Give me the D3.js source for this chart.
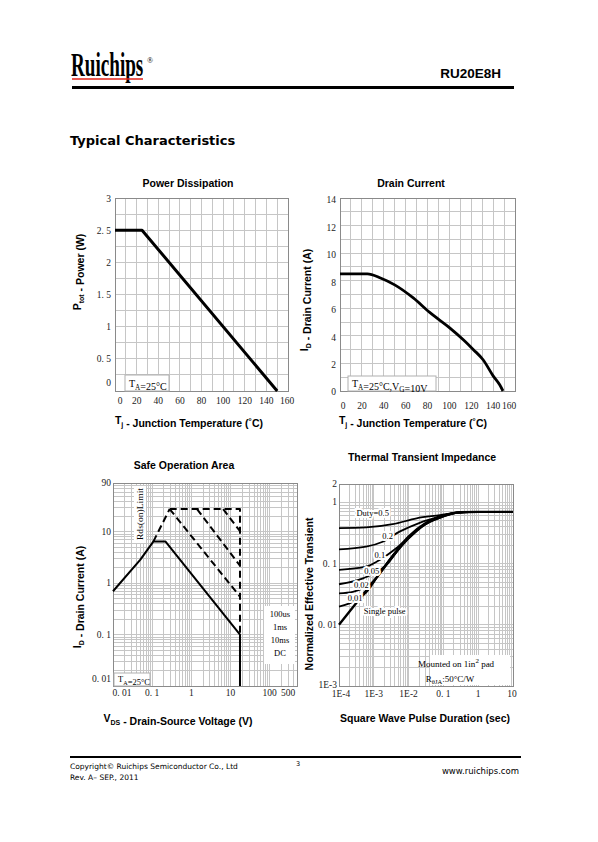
<!DOCTYPE html>
<html><head><meta charset="utf-8">
<script src="https://cdn.jsdelivr.net/npm/d3@7"></script>
<style>body{margin:0;background:#fff}</style>
</head><body>
<svg id="page" width="598" height="842"></svg>
<script>
// ---------- DATA ----------
// Power dissipation
const powerTemp = [0, 25, 150];
const powerW = [2.5, 2.5, 0];
const powerXTicks = [0, 20, 40, 60, 80, 100, 120, 140, 160];
const powerYTicks = [0, 0.5, 1, 1.5, 2, 2.5, 3];
const powerYLabels = ["0", "0. 5", "1", "1. 5", "2", "2. 5", "3"];

// Drain current
const drainTemp = [0, 25, 37, 50, 67, 82, 100, 113, 122, 131, 140, 146, 149];
const drainI = [8.5, 8.5, 8.2, 7.7, 6.75, 5.7, 4.6, 3.7, 3.0, 2.25, 1.1, 0.45, 0];
const drainXTicks = [0, 20, 40, 60, 80, 100, 120, 140, 160];
const drainYTicks = [0, 2, 4, 6, 8, 10, 12, 14];

// Safe operation area
const soaXTicks = [0.01, 0.1, 1, 10, 100, 500];
const soaXLabels = ["0. 01", "0. 1", "1", "10", "100", "500"];
const soaYTicks = [0.01, 0.1, 1, 10, 90];
const soaYLabels = ["0. 01", "0. 1", "1", "10", "90"];
const soaDcV = [0.01, 0.05, 0.107, 0.22, 17.5, 17.5];
const soaDcI = [0.7, 2.9, 6.5, 6.5, 0.1, 0.01];
const soaRdsV = [0.107, 0.28];
const soaRdsI = [6.5, 28];
const soaLimitV = [0.28, 17.5, 17.5];
const soaLimitI = [28, 28, 0.1];
const soa100usV = [6.5, 17.5];
const soa100usI = [28, 10.4];
const soa1msV = [1.4, 17.5];
const soa1msI = [28, 2.2];
const soa10msV = [0.28, 17.5];
const soa10msI = [28, 0.55];
const soaLegend = ["100us", "1ms", "10ms", "DC"];

// Thermal transient impedance
const thXTicks = [1e-4, 1e-3, 1e-2, 0.1, 1, 10];
const thXLabels = ["1E-4", "1E-3", "1E-2", "0. 1", "1", "10"];
const thYTicks = [1e-3, 0.01, 0.1, 1, 2];
const thYLabels = ["1E-3", "0. 01", "0. 1", "1", "2"];
const duty05T = [1e-4, 6e-4, 3.5e-3, 0.017, 0.08, 0.24, 0.5, 10];
const duty05Z = [0.38, 0.39, 0.44, 0.55, 0.62, 0.68, 0.70, 0.70];
const duty02T = [1e-4, 6e-4, 1.8e-3, 5.5e-3, 0.02, 0.08, 0.2, 0.5, 10];
const duty02Z = [0.171, 0.189, 0.228, 0.333, 0.46, 0.585, 0.66, 0.70, 0.70];
const duty01T = [1e-4, 6e-4, 1.2e-3, 4.5e-3, 0.015, 0.04, 0.08, 0.2, 0.5, 10];
const duty01Z = [0.079, 0.089, 0.107, 0.18, 0.33, 0.48, 0.56, 0.66, 0.70, 0.70];
const duty005T = [1e-4, 4.9e-4, 2.3e-3, 6e-3, 0.015, 0.04, 0.1, 0.3, 1, 10];
const duty005Z = [0.046, 0.0575, 0.095, 0.19, 0.32, 0.50, 0.62, 0.69, 0.70, 0.70];
const duty002T = [1e-4, 2.5e-4, 9.5e-4, 3e-3, 0.01, 0.03, 0.1, 0.3, 1, 10];
const duty002Z = [0.0327, 0.0346, 0.0507, 0.12, 0.28, 0.46, 0.61, 0.69, 0.70, 0.70];
const duty001T = [1e-4, 2e-4, 6e-4, 2e-3, 0.01, 0.03, 0.1, 0.3, 1, 10];
const duty001Z = [0.0198, 0.0224, 0.0335, 0.09, 0.27, 0.45, 0.61, 0.69, 0.70, 0.70];
const singleT = [1e-4, 1e-3, 0.01, 0.03, 0.1, 0.3, 1, 10];
const singleZ = [0.01, 0.052, 0.26, 0.44, 0.60, 0.69, 0.70, 0.70];
const thLabelText = ["Duty=0.5", "0.2", "0.1", "0.05", "0.02", "0.01", "Single pulse"];
const thLabelT = [9.3e-4, 2.5e-3, 1.5e-3, 8.7e-4, 4.4e-4, 2.9e-4, 2.06e-3];
const thLabelZ = [0.67, 0.28, 0.138, 0.077, 0.0448, 0.027, 0.0168];

// ---------- DRAWING ----------
const svg = d3.select("#page");
svg.append("rect").attr("width", 598).attr("height", 842).attr("fill", "#fff");

const SANS = "'Liberation Sans', Arial, sans-serif";
const SERIF = "'Liberation Serif', 'Times New Roman', serif";
const VERD = "'DejaVu Sans', Verdana, sans-serif";
const GRID = "#c6c6c6";
const FRAME = "#8a8a8a";

// Header
svg.append("text").attr("transform", "translate(71,76) scale(0.5625,1)").attr("font-family", SERIF).attr("font-weight", "bold")
  .attr("font-size", 34).attr("fill", "#000").text("Ruichips");
svg.append("text").attr("x", 147).attr("y", 63).attr("font-family", SERIF).attr("font-size", 8).text("®");
svg.append("line").attr("x1", 72).attr("x2", 143).attr("y1", 79).attr("y2", 79).attr("stroke", "#e2231a").attr("stroke-width", 1.6);
svg.append("text").attr("x", 501).attr("y", 78).attr("text-anchor", "end").attr("font-family", SANS).attr("font-weight", "bold").attr("font-size", 13.5).text("RU20E8H");
svg.append("rect").attr("x", 72).attr("y", 86).attr("width", 442).attr("height", 3).attr("fill", "#000");
svg.append("text").attr("x", 70).attr("y", 145).attr("font-family", VERD).attr("font-weight", "bold").attr("font-size", 13).text("Typical Characteristics");

// Footer
svg.append("rect").attr("x", 70).attr("y", 756).attr("width", 451).attr("height", 2).attr("fill", "#000");
svg.append("text").attr("x", 70).attr("y", 769).attr("font-family", VERD).attr("font-size", 7.5).text("Copyright© Ruichips Semiconductor Co., Ltd");
svg.append("text").attr("x", 70).attr("y", 780).attr("font-family", VERD).attr("font-size", 7.5).text("Rev. A– SEP., 2011");
svg.append("text").attr("x", 298).attr("y", 766).attr("text-anchor", "middle").attr("font-family", VERD).attr("font-size", 6.5).text("3");
svg.append("text").attr("x", 519).attr("y", 774).attr("text-anchor", "end").attr("font-family", VERD).attr("font-size", 8.5).text("www.ruichips.com");

// helpers
function title(text, x, y) {
  svg.append("text").attr("x", x).attr("y", y).attr("text-anchor", "middle").attr("font-family", SANS)
    .attr("font-weight", "bold").attr("font-size", 10.5).text(text);
}
function richTitle(parts, x, y, rotate) {
  const t = svg.append("text").attr("text-anchor", "middle").attr("font-family", SANS).attr("font-weight", "bold").attr("font-size", 10.5)
    .attr("transform", `translate(${x},${y})` + (rotate ? " rotate(-90)" : ""));
  parts.forEach(p => {
    if (p.sub) {
      t.append("tspan").attr("dy", 3).attr("font-size", 7).text(p.sub);
      t.append("tspan").attr("dy", -3).text("");
    } else t.append("tspan").text(p.t);
  });
}
function logGrid(min, max) {
  const vals = [];
  for (let n = Math.floor(Math.log10(min)); n <= Math.ceil(Math.log10(max)); n++) {
    for (let k = 1; k <= 9; k++) {
      const v = k * Math.pow(10, n);
      if (v >= min * 0.9999 && v <= max * 1.0001) vals.push(v);
    }
  }
  return vals;
}
function gridAndFrame(g, x, y, xs, ys) {
  const [x0, x1] = x.range(), [y0, y1] = y.range();
  g.selectAll(null).data(xs).join("line").attr("x1", d => x(d)).attr("x2", d => x(d)).attr("y1", y0).attr("y2", y1)
    .attr("stroke", GRID).attr("stroke-width", 1).attr("shape-rendering", "crispEdges");
  g.selectAll(null).data(ys).join("line").attr("y1", d => y(d)).attr("y2", d => y(d)).attr("x1", x0).attr("x2", x1)
    .attr("stroke", GRID).attr("stroke-width", 1).attr("shape-rendering", "crispEdges");
  g.append("rect").attr("x", x0).attr("y", y1).attr("width", x1 - x0).attr("height", y0 - y1)
    .attr("fill", "none").attr("stroke", FRAME).attr("stroke-width", 1).attr("shape-rendering", "crispEdges");
}
function tickLabels(g, x, y, xt, xl, yt, yl, opt) {
  const [x0, x1] = x.range(), [y0, y1] = y.range();
  g.selectAll(null).data(xt).join("text")
    .attr("x", d => Math.min(Math.max(x(d), x0 + opt.xPadL), x1 - opt.xPadR))
    .attr("y", y0 + opt.xDy).attr("text-anchor", "middle").attr("font-family", SERIF).attr("font-size", 9.5).attr("fill", "#222")
    .text((d, i) => xl[i]);
  g.selectAll(null).data(yt).join("text")
    .attr("x", x0 - opt.yDx).attr("y", d => Math.min(y(d) + opt.yDy, y0 - opt.yPadB)).attr("text-anchor", "end")
    .attr("font-family", SERIF).attr("font-size", 9.5).attr("fill", "#222").text((d, i) => yl[i]);
}
function path(g, xs, ys, x, y, w, dash, curve) {
  const pts = xs.map((v, i) => [v, ys[i]]);
  g.append("path").attr("d", d3.line().x(d => x(d[0])).y(d => y(d[1])).curve(curve || d3.curveLinear)(pts))
    .attr("fill", "none").attr("stroke", "#000").attr("stroke-width", w).attr("stroke-dasharray", dash || null)
    .attr("stroke-linejoin", "round");
}
function taBox(g, x, y, w, h, parts, size) {
  g.append("rect").attr("x", x).attr("y", y).attr("width", w).attr("height", h).attr("fill", "#fff").attr("stroke", "#b0b0b0");
  const t = g.append("text").attr("x", x + 4).attr("y", y + h - 4).attr("font-family", SERIF).attr("font-size", size);
  parts.forEach(p => {
    if (p.sub) { t.append("tspan").attr("dy", 2.5).attr("font-size", size * 0.72).text(p.sub); t.append("tspan").attr("dy", -2.5).text(""); }
    else t.append("tspan").text(p.t);
  });
}

// ---- Chart 1: Power Dissipation ----
{
  const g = svg.append("g");
  const x = d3.scaleLinear().domain([0, 160]).range([115, 288]);
  const y = d3.scaleLinear().domain([0, 3]).range([391, 198]);
  gridAndFrame(g, x, y, d3.range(10, 160, 10), d3.range(0.25, 3, 0.25));
  tickLabels(g, x, y, powerXTicks, powerXTicks.map(String), powerYTicks, powerYLabels,
    { xDy: 13, xPadL: 5, xPadR: 1, yDx: 4, yDy: 3.5, yPadB: 5 });
  taBox(g, 125, 375, 44, 16, [{ t: "T" }, { sub: "A" }, { t: "=25°C" }], 10);
  path(g, powerTemp, powerW, x, y, 3);
  title("Power Dissipation", 188, 187);
  richTitle([{ t: "P" }, { sub: "tot" }, { t: " - Power (W)" }], 81, 272, true);
  richTitle([{ t: "T" }, { sub: "j" }, { t: " - Junction Temperature (˚C)" }], 189, 424, false);
}

// ---- Chart 2: Drain Current ----
{
  const g = svg.append("g");
  const x = d3.scaleLinear().domain([0, 160]).range([340, 515]);
  const y = d3.scaleLinear().domain([0, 14]).range([391, 198]);
  gridAndFrame(g, x, y, d3.range(10, 160, 10), d3.range(1, 14, 1));
  tickLabels(g, x, y, drainXTicks, drainXTicks.map(String), drainYTicks, drainYTicks.map(String),
    { xDy: 18, xPadL: 3, xPadR: 6, yDx: 4, yDy: 5, yPadB: -4 });
  taBox(g, 348, 376, 88, 15, [{ t: "T" }, { sub: "A" }, { t: "=25°C,V" }, { sub: "G" }, { t: "=10V" }], 10);
  path(g, drainTemp, drainI, x, y, 2.8, null, d3.curveMonotoneX);
  title("Drain Current", 411, 187);
  richTitle([{ t: "I" }, { sub: "D" }, { t: " - Drain Current (A)" }], 308, 300, true);
  richTitle([{ t: "T" }, { sub: "j" }, { t: " - Junction Temperature (˚C)" }], 413, 424, false);
}

// ---- Chart 3: Safe Operation Area ----
{
  const g = svg.append("g");
  const x = d3.scaleLog().domain([0.01, 500]).range([113, 297]);
  const y = d3.scaleLog().domain([0.01, 90]).range([686, 483]);
  gridAndFrame(g, x, y, logGrid(0.01, 500).slice(1, -1), logGrid(0.01, 90).slice(1, -1));
  tickLabels(g, x, y, soaXTicks, soaXLabels, soaYTicks, soaYLabels,
    { xDy: 10, xPadL: 9, xPadR: 9, yDx: 2, yDy: 3, yPadB: 4 });
  // annotation boxes
  g.append("rect").attr("x", 134).attr("y", 486).attr("width", 12).attr("height", 57).attr("fill", "#fff");
  g.append("text").attr("transform", "translate(143,514) rotate(-90)").attr("text-anchor", "middle")
    .attr("font-family", SERIF).attr("font-size", 9).attr("textLength", 52).attr("lengthAdjust", "spacingAndGlyphs").text("Rds(on)Limit");
  g.append("rect").attr("x", 264).attr("y", 606).attr("width", 31).attr("height", 58).attr("fill", "#fff");
  g.selectAll(null).data(soaLegend).join("text").attr("x", 280).attr("y", (d, i) => 617 + i * 13)
    .attr("text-anchor", "middle").attr("font-family", SERIF).attr("font-size", 8.5).text(d => d);
  taBox(g, 114, 673, 36, 13, [{ t: "T" }, { sub: "A" }, { t: "=25°C" }], 8.5);
  const dash = "7,4";
  path(g, soaRdsV, soaRdsI, x, y, 2, dash);
  path(g, soaLimitV, soaLimitI, x, y, 2, dash);
  path(g, soa100usV, soa100usI, x, y, 2, dash);
  path(g, soa1msV, soa1msI, x, y, 2, dash);
  path(g, soa10msV, soa10msI, x, y, 2, dash);
  path(g, soaDcV, soaDcI, x, y, 2);
  title("Safe Operation Area", 184, 469);
  richTitle([{ t: "I" }, { sub: "D" }, { t: " - Drain Current (A)" }], 81, 597, true);
  richTitle([{ t: "V" }, { sub: "DS" }, { t: " - Drain-Source Voltage (V)" }], 178, 722, false);
}

// ---- Chart 4: Thermal Transient Impedance ----
{
  const g = svg.append("g");
  const x = d3.scaleLog().domain([1e-4, 10]).range([339, 513]);
  const y = d3.scaleLog().domain([1e-3, 2]).range([686, 484]);
  gridAndFrame(g, x, y, logGrid(1e-4, 10).slice(1, -1), logGrid(1e-3, 2).slice(1, -1));
  tickLabels(g, x, y, thXTicks, thXLabels, thYTicks, thYLabels,
    { xDy: 11, xPadL: 2, xPadR: 1, yDx: 2, yDy: 3, yPadB: -2 });
  const c = d3.curveMonotoneX;
  path(g, duty05T, duty05Z, x, y, 1.8, null, c);
  path(g, duty02T, duty02Z, x, y, 1.8, null, c);
  path(g, duty01T, duty01Z, x, y, 1.8, null, c);
  path(g, duty005T, duty005Z, x, y, 1.8, null, c);
  path(g, duty002T, duty002Z, x, y, 1.8, null, c);
  path(g, duty001T, duty001Z, x, y, 1.8, null, c);
  path(g, singleT, singleZ, x, y, 2.4, null, c);
  g.selectAll(null).data(thLabelText).join("text")
    .attr("x", (d, i) => x(thLabelT[i])).attr("y", (d, i) => y(thLabelZ[i]) + 3)
    .attr("text-anchor", "middle").attr("font-family", SERIF).attr("font-size", 8.5)
    .attr("stroke", "#fff").attr("stroke-width", 4).attr("paint-order", "stroke").attr("fill", "#000").text(d => d);
  g.append("rect").attr("x", 430).attr("y", 655).attr("width", 80).attr("height", 30).attr("fill", "#fff");
  const t1 = g.append("text").attr("x", 456).attr("y", 667).attr("text-anchor", "middle").attr("font-family", SERIF).attr("font-size", 9);
  t1.append("tspan").text("Mounted on 1in");
  t1.append("tspan").attr("dy", -4).attr("font-size", 7).text("2");
  t1.append("tspan").attr("dy", 4).text(" pad");
  const t2 = g.append("text").attr("x", 450).attr("y", 682).attr("text-anchor", "middle").attr("font-family", SERIF).attr("font-size", 9);
  t2.append("tspan").text("R");
  t2.append("tspan").attr("dy", 2).attr("font-size", 6.5).text("θJA");
  t2.append("tspan").attr("dy", -2).text(":50°C/W");
  title("Thermal Transient Impedance", 422, 461);
  richTitle([{ t: "Normalized  Effective Transient" }], 313, 594, true);
  title("Square Wave Pulse Duration (sec)", 425, 722);
}
</script>
</body></html>
